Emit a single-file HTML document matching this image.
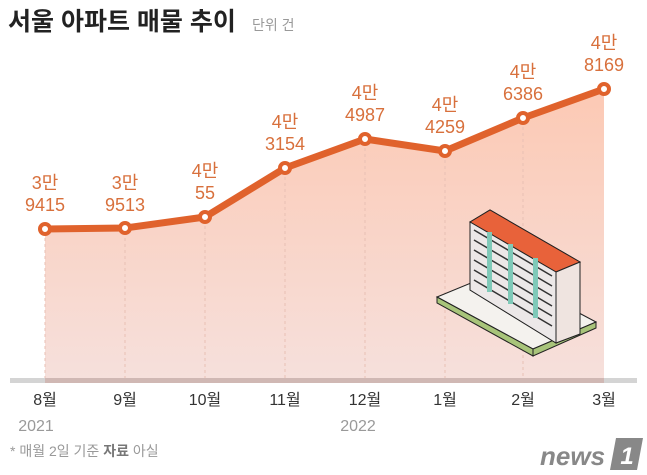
<!DOCTYPE html>
<html><head><meta charset="utf-8"><style>
body{margin:0;background:#fff;width:647px;height:475px;overflow:hidden}
svg{display:block}
text{font-family:"Liberation Sans","Noto Sans CJK KR",sans-serif}
</style></head><body>
<svg width="647" height="475" viewBox="0 0 647 475">
<defs>
<linearGradient id="f" x1="0" y1="89" x2="0" y2="380" gradientUnits="userSpaceOnUse">
<stop offset="0" stop-color="#fcc9b4"/><stop offset="1" stop-color="#f6e0dc"/>
</linearGradient>
</defs>
<text x="8" y="30" font-size="25" font-weight="bold" fill="#222">서울 아파트 매물 추이</text>
<text x="252" y="30" font-size="14" fill="#999">단위 건</text>
<polygon fill="url(#f)" points="45,229 125,228 205,217 285,168 365,139 445,151 523,118 604,89 604,380 45,380"/>
<g stroke="#e8c0b4" stroke-width="1" stroke-dasharray="3,3">
<line x1="45" y1="232" x2="45" y2="378"/><line x1="125" y1="232" x2="125" y2="378"/>
<line x1="205" y1="220" x2="205" y2="378"/><line x1="285" y1="171" x2="285" y2="378"/>
<line x1="365" y1="142" x2="365" y2="378"/><line x1="445" y1="154" x2="445" y2="378"/>
<line x1="523" y1="121" x2="523" y2="378"/>
</g>
<rect x="10" y="378" width="627" height="5" fill="#d4d4d4"/>
<rect x="45" y="378" width="559" height="5" fill="#d0b8b4"/>
<g stroke="#222" stroke-width="1">
<polygon points="437,297 500,271 596,322 533,349" fill="#f4f2ee"/>
<polygon points="437,297 533,349 533,356 437,303" fill="#a8c47a"/>
<polygon points="533,349 596,322 596,328 533,356" fill="#a8c47a"/>
<polygon points="470,222 490,210 580,262 580,334 556,343 470,290" fill="#f0e8e4"/>
<polygon points="470,222 490,210 580,262 556,272" fill="#e8623a"/>
<polygon points="470,222 556,272 556,343 470,290" fill="#ece8e8"/>
<polygon points="556,272 580,262 580,334 556,343" fill="#efe4e0"/>
</g>
<g stroke="#333" stroke-width="1.5">
<line x1="474" y1="230" x2="552" y2="276"/><line x1="474" y1="240" x2="552" y2="286"/>
<line x1="474" y1="250" x2="552" y2="296"/><line x1="474" y1="260" x2="552" y2="306"/>
<line x1="474" y1="270" x2="552" y2="316"/><line x1="474" y1="280" x2="552" y2="326"/>
</g>
<g fill="#7fc9b8"><rect x="487" y="232" width="5" height="60"/><rect x="508" y="244" width="5" height="60"/><rect x="533" y="258" width="5" height="60"/></g>
<polyline fill="none" stroke="#e0622c" stroke-width="7" stroke-linejoin="round" points="45,229 125,228 205,217 285,168 365,139 445,151 523,118 604,89"/>
<g fill="#fff" stroke="#e0622c" stroke-width="4">
<circle cx="45" cy="229" r="5"/><circle cx="125" cy="228" r="5"/><circle cx="205" cy="217" r="5"/><circle cx="285" cy="168" r="5"/>
<circle cx="365" cy="139" r="5"/><circle cx="445" cy="151" r="5"/><circle cx="523" cy="118" r="5"/><circle cx="604" cy="89" r="5"/>
</g>
<g font-size="18" fill="#d8703c" text-anchor="middle">
<text x="45" y="189">3만</text><text x="45" y="211">9415</text>
<text x="125" y="189">3만</text><text x="125" y="211">9513</text>
<text x="205" y="177">4만</text><text x="205" y="199">55</text>
<text x="285" y="128">4만</text><text x="285" y="150">3154</text>
<text x="365" y="99">4만</text><text x="365" y="121">4987</text>
<text x="445" y="111">4만</text><text x="445" y="133">4259</text>
<text x="523" y="78">4만</text><text x="523" y="100">6386</text>
<text x="604" y="49">4만</text><text x="604" y="71">8169</text>
</g>
<g font-size="16" fill="#333" text-anchor="middle">
<text x="45" y="405">8월</text><text x="125" y="405">9월</text><text x="205" y="405">10월</text><text x="285" y="405">11월</text>
<text x="365" y="405">12월</text><text x="445" y="405">1월</text><text x="523" y="405">2월</text><text x="604" y="405">3월</text>
</g>
<g font-size="16" fill="#999" text-anchor="middle">
<text x="36" y="431">2021</text><text x="358" y="431">2022</text>
</g>
<text x="10" y="456" font-size="14" fill="#999">* 매월 2일 기준 <tspan font-weight="bold" fill="#777">자료</tspan> 아실</text>
<text x="540" y="465" font-size="26" font-weight="bold" font-style="italic" fill="#888">news</text>
<polygon points="616,438 643,438 637,470 610,470" fill="#888"/>
<text x="627" y="464" font-size="24" font-weight="bold" font-style="italic" fill="#fff" text-anchor="middle">1</text>
</svg>
</body></html>
